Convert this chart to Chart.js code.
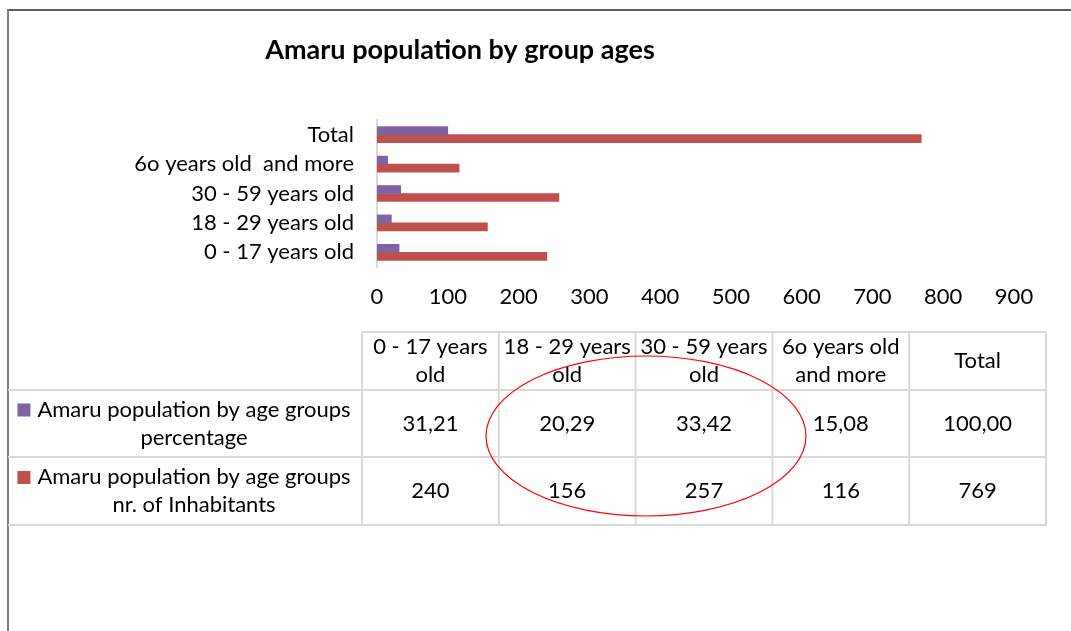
<!DOCTYPE html>
<html>
<head>
<meta charset="utf-8">
<script src="https://cdn.jsdelivr.net/npm/chart.js@4/dist/chart.umd.min.js"></script>
<style>
  html, body { margin: 0; padding: 0; background: #fff; }
  #wrap { position: relative; width: 1071px; height: 631px; overflow: hidden; }
  #frame { position: absolute; left: 7px; top: 9px; width: 1100px; height: 700px;
           border-left: 2px solid #808080; border-top: 2px solid #5f5f5f; }
  canvas { position: absolute; left: 0; top: 0; }
</style>
</head>
<body>
<div id="wrap">
  <div id="frame"></div>
  <canvas id="popChart" width="1071" height="631"></canvas>
</div>
<script>
var chartTitle = "Amaru population by group ages";
var ageGroups = ["0 - 17 years old", "18 - 29 years old", "30 - 59 years old", "6o years old  and more", "Total"];
var pctLabel = "Amaru population by age groups percentage";
var pctValues = [31.21, 20.29, 33.42, 15.08, 100.00];
var inhLabel = "Amaru population by age groups nr. of Inhabitants";
var inhValues = [240, 156, 257, 116, 769];
var xMin = 0, xMax = 900, xStep = 100;

var FONT = "Lato, 'Open Sans', sans-serif";
var FS = 22;

function wrapText(ctx, text, maxW) {
  var words = text.split(/\s+/), lines = [], cur = "";
  words.forEach(function (w) {
    var t = cur ? cur + " " + w : w;
    if (cur && ctx.measureText(t).width > maxW) { lines.push(cur); cur = w; }
    else cur = t;
  });
  if (cur) lines.push(cur);
  return lines;
}

function line(ctx, x1, y1, x2, y2) {
  ctx.beginPath(); ctx.moveTo(x1, y1); ctx.lineTo(x2, y2); ctx.stroke();
}

// title, data table under the axis and the red ellipse
var tablePlugin = {
  id: "dataTable",
  afterDraw: function (chart) {
    var ctx = chart.ctx;
    ctx.save();

    ctx.fillStyle = "#000";
    ctx.textAlign = "center";
    ctx.textBaseline = "middle";
    ctx.font = "bold 27px " + FONT;
    ctx.fillText(chartTitle, 460, 50);

    var labels = chart.data.labels;
    var sets = chart.data.datasets;
    var colX = [8, 362];
    var cw = (1046 - 362) / labels.length;
    for (var i = 1; i <= labels.length; i++) colX.push(362 + cw * i);
    var rowY = [332, 390, 457, 525];

    ctx.strokeStyle = "#d9d9d9";
    ctx.lineWidth = 2;
    line(ctx, 362, rowY[0], 1046, rowY[0]);
    for (var r = 1; r < rowY.length; r++) line(ctx, 8, rowY[r], 1046, rowY[r]);
    for (var c = 1; c < colX.length; c++) line(ctx, colX[c], rowY[0], colX[c], rowY[3]);

    ctx.font = FS + "px " + FONT;
    ctx.fillStyle = "#000";
    var lh = 28;

    // header
    labels.forEach(function (lab, k) {
      var cx = (colX[k + 1] + colX[k + 2]) / 2;
      var ls = wrapText(ctx, lab, cw - 2);
      var cy = (rowY[0] + rowY[1]) / 2 - (ls.length - 1) * lh / 2;
      ls.forEach(function (t, j) { ctx.fillText(t, cx, cy + j * lh); });
    });

    // data rows
    sets.forEach(function (ds, d) {
      var top = rowY[d + 1], bot = rowY[d + 2], mid = (top + bot) / 2;
      var ls = wrapText(ctx, ds.label, 330);
      var cy = mid - (ls.length - 1) * lh / 2;
      var tx = 194;
      ls.forEach(function (t, j) { ctx.fillText(t, tx, cy + j * lh); });
      var w0 = ctx.measureText(ls[0]).width;
      ctx.fillStyle = ds.backgroundColor;
      ctx.fillRect(tx - w0 / 2 - 20, cy - 6, 13, 13);
      ctx.fillStyle = "#000";
      ds.data.forEach(function (v, k) {
        var cx = (colX[k + 1] + colX[k + 2]) / 2;
        var s = d === 0 ? v.toFixed(2).replace(".", ",") : String(v);
        ctx.fillText(s, cx, mid);
      });
    });

    ctx.strokeStyle = "#ff0000";
    ctx.lineWidth = 1.2;
    ctx.beginPath();
    ctx.ellipse(646, 436, 160, 80, 0, 0, Math.PI * 2);
    ctx.stroke();

    ctx.restore();
  }
};

var ctx = document.getElementById("popChart").getContext("2d");

var popChart = new Chart(ctx, {
  type: "bar",
  data: {
    labels: ageGroups,
    datasets: [
      { label: pctLabel, data: pctValues, backgroundColor: "#8064a2", barThickness: 8 },
      { label: inhLabel, data: inhValues, backgroundColor: "#c0504d", barThickness: 8 }
    ]
  },
  options: {
    indexAxis: "y",
    responsive: false,
    animation: false,
    layout: { padding: { left: 0, right: 57, top: 120, bottom: 0 } },
    plugins: {
      legend: { display: false },
      tooltip: { enabled: false },
      title: { display: false }
    },
    scales: {
      x: {
        min: xMin, max: xMax,
        ticks: { stepSize: xStep, padding: 17, color: "#000", font: { family: FONT, size: FS } },
        grid: { display: false, drawTicks: false },
        border: { display: false },
        afterFit: function (s) { s.height = 364; }
      },
      y: {
        reverse: true,
        ticks: { padding: 23, color: "#000", font: { family: FONT, size: FS } },
        grid: { display: false, drawTicks: false },
        border: { color: "#d9d9d9", width: 2 },
        afterFit: function (s) { s.width = 377; }
      }
    }
  },
  plugins: [tablePlugin]
});
</script>
</body>
</html>
